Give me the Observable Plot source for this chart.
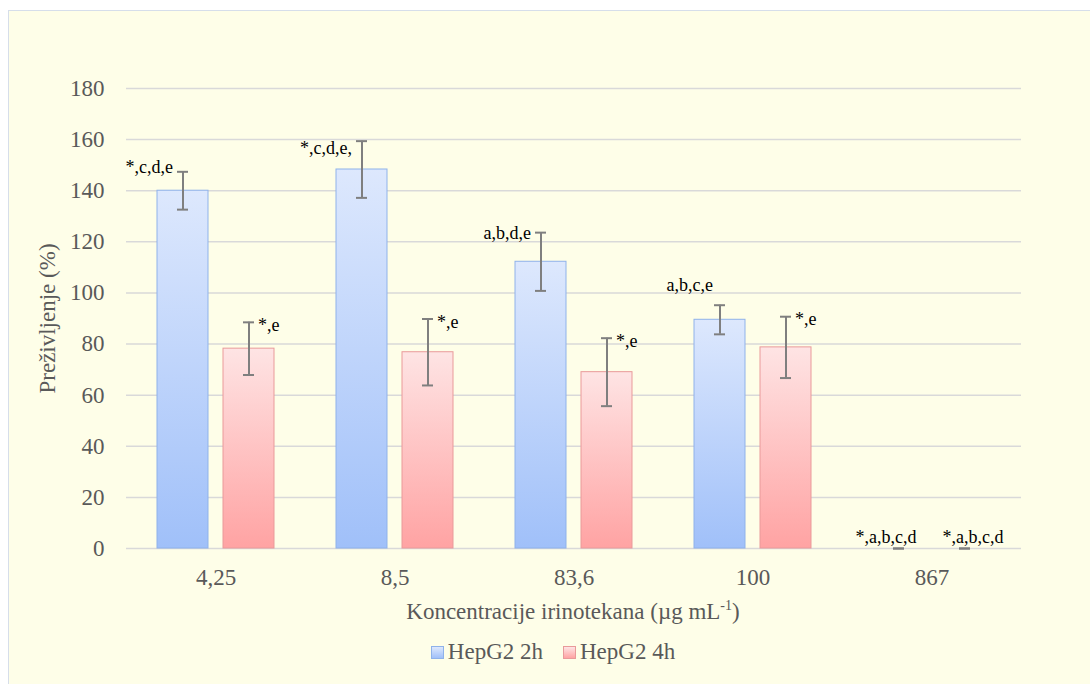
<!DOCTYPE html>
<html>
<head>
<meta charset="utf-8">
<script src="https://cdn.jsdelivr.net/npm/d3@7"></script>
<script src="https://cdn.jsdelivr.net/npm/@observablehq/plot@0.6"></script>
<style>
  html, body { margin: 0; padding: 0; background: #ffffff; overflow: hidden; width: 1090px; height: 684px; }
  #frame { position: absolute; left: 8px; top: 10px; width: 1100px; height: 700px; background: #FEFEE8; border: 1px solid #D6DEEA; font-family: "Liberation Serif", "DejaVu Serif", serif; color: #595959; }
  #chart { position: absolute; left: 0; top: 0; }
  #xtitle { position: absolute; left: 164px; width: 800px; top: 587px; text-align: center; font-size: 23px; line-height: 28px; }
  #xtitle sup { font-size: 14px; vertical-align: 9px; line-height: 0; }
  #legend { position: absolute; left: 144px; width: 800px; top: 627px; display: flex; justify-content: center; align-items: center; font-size: 23px; line-height: 28px; gap: 20px; }
  .item { display: flex; align-items: center; gap: 4px; }
  .sw { width: 11px; height: 11px; display: inline-block; }
  #chart svg, #chart svg text { font-family: "Liberation Serif", "DejaVu Serif", serif !important; }
</style>
</head>
<body>
<div id="frame">
  <div id="chart"></div>
  <div id="xtitle">Koncentracije irinotekana (µg mL<sup>-1</sup>)</div>
  <div id="legend"></div>
</div>
<script>
// ---- data ----
const categories = ["4,25", "8,5", "83,6", "100", "867"];
const series = ["HepG2 2h", "HepG2 4h"];
const mean2h = [140, 148.3, 112.2, 89.5, 0];
const err2h = [7.4, 11.1, 11.4, 5.7, 0];
const mean4h = [78.2, 76.8, 69.0, 78.7, 0];
const err4h = [10.3, 13.0, 13.3, 12.0, 0];
const labels2h = ["*,c,d,e", "*,c,d,e,", "a,b,d,e", "a,b,c,e", "*,a,b,c,d"];
const labels4h = ["*,e", "*,e", "*,e", "*,e", "*,a,b,c,d"];
const yTicks = [0, 20, 40, 60, 80, 100, 120, 140, 160, 180];
const yTitle = "Preživljenje (%)";

// ---- build table ----
const rows = categories.flatMap((c, i) => [
  {cat: c, series: series[0], value: mean2h[i], err: err2h[i], label: labels2h[i]},
  {cat: c, series: series[1], value: mean4h[i], err: err4h[i], label: labels4h[i]}
]);
const hi = d => d.value + d.err;
const lo = d => d.value - d.err;

const colors = {
  [series[0]]: {top: "#DDE8FD", bottom: "#A0C0F9", stroke: "#8FB2EA", id: "gBlue"},
  [series[1]]: {top: "#FEE4E4", bottom: "#FFA3A3", stroke: "#E99A9A", id: "gPink"}
};

// label placement (layout only)
const blueNudge = {"4,25": -5, "8,5": 7, "83,6": 1};
function placement(d) {
  const blue = d.series === series[0];
  if (d.value === 0) return {textAnchor: "middle", dx: blue ? -13 : 8, dy: -11};
  if (!blue) return {textAnchor: "start", dx: 9, dy: 3};
  if (d.cat === "100") return {textAnchor: "end", dx: -7, dy: -20};
  return {textAnchor: "end", dx: -10, dy: blueNudge[d.cat] ?? 0};
}

const labelMarks = rows.map(d => Plot.text([d], {
  fx: "cat", x: "series", y: hi, text: "label",
  fontSize: 18, fill: "#000000", ...placement(d)
}));

const errStyle = {stroke: "#7F7F7F", strokeWidth: 2};

const chart = Plot.plot({
  width: 1080,
  height: 600,
  marginLeft: 116,
  marginRight: 67,
  marginTop: 77,
  marginBottom: 63,
  style: {fontFamily: "Liberation Serif, DejaVu Serif, serif", background: "transparent", color: "#595959"},
  fx: {domain: categories, padding: 0, label: null},
  x: {domain: series, paddingInner: 0.224, paddingOuter: 0.448, axis: null},
  y: {domain: [0, 180]},
  marks: [
    Plot.ruleY(yTicks, {stroke: "#D9D9D9", strokeWidth: 1.5}),
    ...series.map(s => Plot.barY(rows.filter(d => d.series === s), {
      fx: "cat", x: "series", y: "value",
      fill: `url(#${colors[s].id})`, stroke: colors[s].stroke, strokeWidth: 1
    })),
    Plot.ruleX(rows, {fx: "cat", x: "series", y1: lo, y2: hi, ...errStyle}),
    Plot.tickY(rows, {fx: "cat", x: "series", y: hi, insetLeft: 20, insetRight: 20, ...errStyle}),
    Plot.tickY(rows, {fx: "cat", x: "series", y: lo, insetLeft: 20, insetRight: 20, ...errStyle}),
    ...labelMarks,
    Plot.axisY({ticks: yTicks, tickSize: 0, tickPadding: 22, fontSize: 23, fill: "#595959",
      label: yTitle, labelAnchor: "center", labelArrow: "none", labelOffset: 88}),
    Plot.axisFx({anchor: "bottom", tickSize: 0, tickPadding: 20, fontSize: 23, fill: "#595959", label: null})
  ]
});

// gradients
const ns = "http://www.w3.org/2000/svg";
const defs = document.createElementNS(ns, "defs");
for (const s of series) {
  const c = colors[s];
  const g = document.createElementNS(ns, "linearGradient");
  g.setAttribute("id", c.id);
  g.setAttribute("x1", "0"); g.setAttribute("y1", "0");
  g.setAttribute("x2", "0"); g.setAttribute("y2", "1");
  [[0, c.top], [1, c.bottom]].forEach(([o, col]) => {
    const st = document.createElementNS(ns, "stop");
    st.setAttribute("offset", o);
    st.setAttribute("stop-color", col);
    g.appendChild(st);
  });
  defs.appendChild(g);
}
chart.insertBefore(defs, chart.firstChild);
document.getElementById("chart").appendChild(chart);

// legend
const legend = document.getElementById("legend");
for (const s of series) {
  const c = colors[s];
  const item = document.createElement("div");
  item.className = "item";
  const sw = document.createElement("span");
  sw.className = "sw";
  sw.style.background = `linear-gradient(${c.top}, ${c.bottom})`;
  sw.style.border = `1px solid ${c.stroke}`;
  const t = document.createElement("span");
  t.textContent = s;
  item.appendChild(sw); item.appendChild(t);
  legend.appendChild(item);
}
</script>
</body>
</html>
